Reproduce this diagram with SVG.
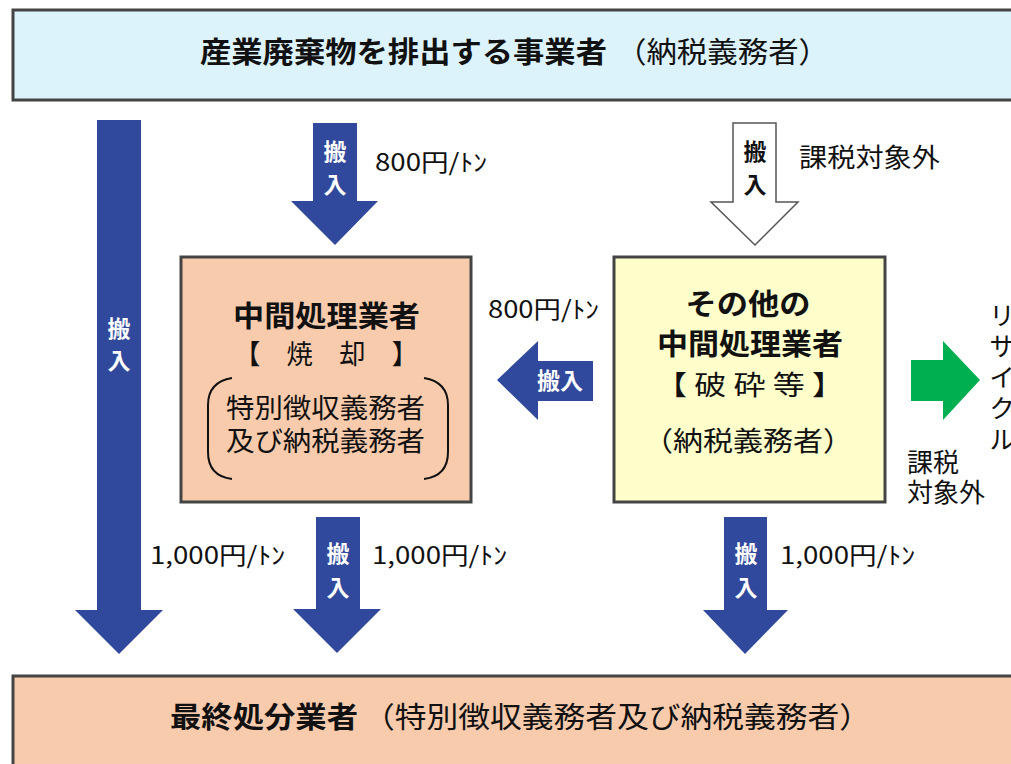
<svg xmlns="http://www.w3.org/2000/svg" width="1011" height="764" viewBox="0 0 1011 764">
<style>
text{font-family:"Noto Sans CJK JP","Noto Sans",sans-serif;fill:#111}
.b{font-weight:bold}
.w{fill:#fff;font-weight:bold;font-size:23px}
.box{stroke:#444;stroke-width:3}
.arr{fill:#30499C}
.lbl{font-size:24px}
.cj{font-size:26px}
</style>
<rect width="1011" height="764" fill="#fff"/>
<g id="top">
<rect class="box" x="13" y="10" width="1010" height="90" fill="#DDF3FB"/>
<text x="200" y="63" font-size="29" class="b" textLength="407" lengthAdjust="spacingAndGlyphs">産業廃棄物を排出する事業者</text>
<text x="616" y="63" font-size="29" textLength="213" lengthAdjust="spacingAndGlyphs">（納税義務者）</text>
</g>
<g id="incin">
<rect class="box" x="181" y="257" width="290" height="245" fill="#F8CBAD"/>
<text x="233" y="327" font-size="29" class="b" textLength="187" lengthAdjust="spacingAndGlyphs">中間処理業者</text>
<text x="234" y="364" font-size="27" textLength="184" lengthAdjust="spacingAndGlyphs">【　焼　却　】</text>
<path d="M232,378 Q208,382 208,405 L208,452 Q208,476 232,479 M424,378 Q448,382 448,405 L448,452 Q448,476 424,479" fill="none" stroke="#111" stroke-width="2"/>
<text font-size="27"><tspan x="226" y="418" textLength="199" lengthAdjust="spacingAndGlyphs">特別徴収義務者</tspan><tspan x="226" y="451" textLength="199" lengthAdjust="spacingAndGlyphs">及び納税義務者</tspan></text>
</g>
<g id="other">
<rect class="box" x="614" y="257" width="271" height="245" fill="#FFFFCC"/>
<text x="748" y="315" font-size="29" class="b" text-anchor="middle" textLength="125" lengthAdjust="spacingAndGlyphs">その他の</text>
<text x="657" y="355" font-size="29" class="b" textLength="186" lengthAdjust="spacingAndGlyphs">中間処理業者</text>
<text x="655" y="395" font-size="27" textLength="189" lengthAdjust="spacingAndGlyphs">【 破 砕 等 】</text>
<text x="748" y="451" font-size="27" text-anchor="middle" textLength="210" lengthAdjust="spacingAndGlyphs">（納税義務者）</text>
</g>
<g id="final">
<rect class="box" x="13" y="676" width="1010" height="100" fill="#F8CBAD"/>
<text x="170" y="728" font-size="29" class="b" textLength="188" lengthAdjust="spacingAndGlyphs">最終処分業者</text>
<text x="363" y="728" font-size="29" textLength="508" lengthAdjust="spacingAndGlyphs">（特別徴収義務者及び納税義務者）</text>
</g>
<g id="connectors">
<polygon class="arr" points="97,120 141,120 141,610 163,610 119,654 75,610 97,610"/>
<text class="w" x="119" y="337" text-anchor="middle">搬</text>
<text class="w" x="119" y="369" text-anchor="middle">入</text>
<polygon class="arr" points="313,123 357,123 357,201 378,201 335,245 291,201 313,201"/>
<text class="w" x="335" y="160" text-anchor="middle">搬</text>
<text class="w" x="335" y="193" text-anchor="middle">入</text>
<polygon points="733,123 776,123 776,202 798,202 755,245 711,202 733,202" fill="#fff" stroke="#555" stroke-width="1.5"/>
<text x="755" y="160" text-anchor="middle" font-size="23" class="b">搬</text>
<text x="755" y="193" text-anchor="middle" font-size="23" class="b">入</text>
<polygon class="arr" points="593,361 593,401 538,401 538,420 497,380 538,341 538,361"/>
<text class="w" x="560" y="389" text-anchor="middle">搬入</text>
<polygon points="911,360 943,360 943,341 980,380 943,420 943,401 911,401" fill="#00B050"/>
<polygon class="arr" points="316,517 360,517 360,609 381,609 337,653 293,609 316,609"/>
<text class="w" x="338" y="562" text-anchor="middle">搬</text>
<text class="w" x="338" y="596" text-anchor="middle">入</text>
<polygon class="arr" points="724,517 767,517 767,610 788,610 745,654 703,610 724,610"/>
<text class="w" x="746" y="562" text-anchor="middle">搬</text>
<text class="w" x="746" y="596" text-anchor="middle">入</text>
</g>
<g id="labels">
<text class="lbl" x="375" y="171" textLength="112" lengthAdjust="spacingAndGlyphs">800円/ﾄﾝ</text>
<text class="cj" x="799" y="167" textLength="141" lengthAdjust="spacingAndGlyphs">課税対象外</text>
<text class="lbl" x="488" y="318" textLength="111" lengthAdjust="spacingAndGlyphs">800円/ﾄﾝ</text>
<text class="lbl" x="150" y="564" textLength="135" lengthAdjust="spacingAndGlyphs">1,000円/ﾄﾝ</text>
<text class="lbl" x="372" y="564" textLength="135" lengthAdjust="spacingAndGlyphs">1,000円/ﾄﾝ</text>
<text class="lbl" x="780" y="564" textLength="135" lengthAdjust="spacingAndGlyphs">1,000円/ﾄﾝ</text>
<text class="cj"><tspan x="907" y="472">課税</tspan><tspan x="907" y="502">対象外</tspan></text>
<text class="cj" x="1002" y="302" writing-mode="vertical-rl" letter-spacing="5">リサイクル</text>
</g>
</svg>
